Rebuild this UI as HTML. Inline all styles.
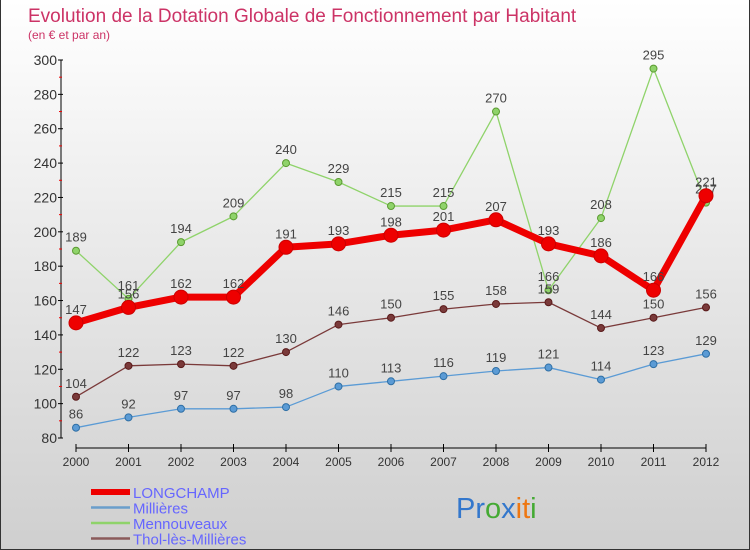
<!DOCTYPE html>
<html><head><meta charset="utf-8"><style>
body{margin:0}
#c{width:750px;height:550px;position:relative;background:linear-gradient(#fff,#cfcfcf);font-family:"Liberation Sans",sans-serif;overflow:hidden;box-sizing:border-box;border:1px solid #333;border-top:none}
</style></head><body>
<div id="c">
<svg id="s" width="750" height="550" xmlns="http://www.w3.org/2000/svg"></svg>
</div>
<script>
const years=[2000,2001,2002,2003,2004,2005,2006,2007,2008,2009,2010,2011,2012];
const longchamp=[147,156,162,162,191,193,198,201,207,193,186,166,221];
const millieres=[86,92,97,97,98,110,113,116,119,121,114,123,129];
const mennouveaux=[189,161,194,209,240,229,215,215,270,166,208,295,217];
const thol=[104,122,123,122,130,146,150,155,158,159,144,150,156];
const yTicks=[80,100,120,140,160,180,200,220,240,260,280,300];
const seriesNames=["LONGCHAMP","Millières","Mennouveaux","Thol-lès-Millières"];
const NS="http://www.w3.org/2000/svg";
const s=document.getElementById('s');
function X(i){return 75+i*52.5;}
function Y(v){return 438-(v-80)*(378/220);}
function el(t,a,p){const e=document.createElementNS(NS,t);for(const k in a)e.setAttribute(k,a[k]);(p||s).appendChild(e);return e;}
let t=el('text',{x:27,y:22,'font-size':19,fill:'#cc3366','font-weight':'normal'});t.textContent='Evolution de la Dotation Globale de Fonctionnement par Habitant';

t=el('text',{x:27,y:39,'font-size':12,fill:'#cc3366'});t.textContent='(en € et par an)';

let a=el('line',{x1:60,y1:Y(300),x2:60,y2:438,stroke:'#000'});
a=el('line',{x1:75,y1:448,x2:X(12),y2:448,stroke:'#000'});
yTicks.forEach((v,i)=>{
  el('line',{x1:57,y1:Y(v),x2:62,y2:Y(v),stroke:'#000'});
  if(i<yTicks.length-1)el('line',{x1:58,y1:Y(v+10),x2:61,y2:Y(v+10),stroke:'#e00'});
  const tx=el('text',{x:56,y:Y(v)+5,'font-size':14,fill:'#333','text-anchor':'end'});tx.textContent=v;
  
});
years.forEach((yr,i)=>{
  el('line',{x1:X(i),y1:444,x2:X(i),y2:452,stroke:'#000'});
  const tx=el('text',{x:X(i),y:466,'font-size':12,fill:'#333','text-anchor':'middle'});tx.textContent=yr;
  
});
function series(data,color,w,r,name,dark){
  const g=el('g',{});
  el('polyline',{points:data.map((v,i)=>X(i)+','+Y(v)).join(' '),fill:'none',stroke:color,'stroke-width':w,'stroke-linejoin':'round'},g);
  data.forEach((v,i)=>{
    const c=el('circle',{cx:X(i),cy:Y(v),r:r,fill:color,stroke:dark,'stroke-width':1},g);
    
    const tx=el('text',{x:X(i),y:Y(v)-9,'font-size':13,fill:'#444','text-anchor':'middle'},g);tx.textContent=v;
  });
}
series(mennouveaux,'#8fd36a',1.3,3.5,'mennouveaux','#5a9a30');
series(thol,'#7a3a3a',1.3,3.5,'thol','#5a1a1a');
series(millieres,'#5b9bd5',1.3,3.5,'millieres','#2f6fa5');
series(longchamp,'#ee0000',7,7,'longchamp','#cc0000');
const lc=['#e00','#6a9ecb','#8fd36a','#8a5a5a'],lw=[6,2.5,2.5,2.5];
seriesNames.forEach((n,i)=>{
  const y=492+i*15.5;
  const g=el('g',{});
  el('line',{x1:90,y1:y,x2:129,y2:y,stroke:lc[i],'stroke-width':lw[i]},g);
  const tx=el('text',{x:132,y:y+6,'font-size':15,fill:'#6666ff'},g);tx.textContent=n;
});
t=el('text',{x:455,y:518,'font-size':29});

[['P','#3377cc'],['r','#3377cc'],['o','#44aa33'],['x','#3377cc'],['i','#ee7711'],['t','#ee7711'],['i','#44aa33']].forEach(([c,f])=>{const ts=el('tspan',{fill:f},t);ts.textContent=c;});
</script>
</body></html>
